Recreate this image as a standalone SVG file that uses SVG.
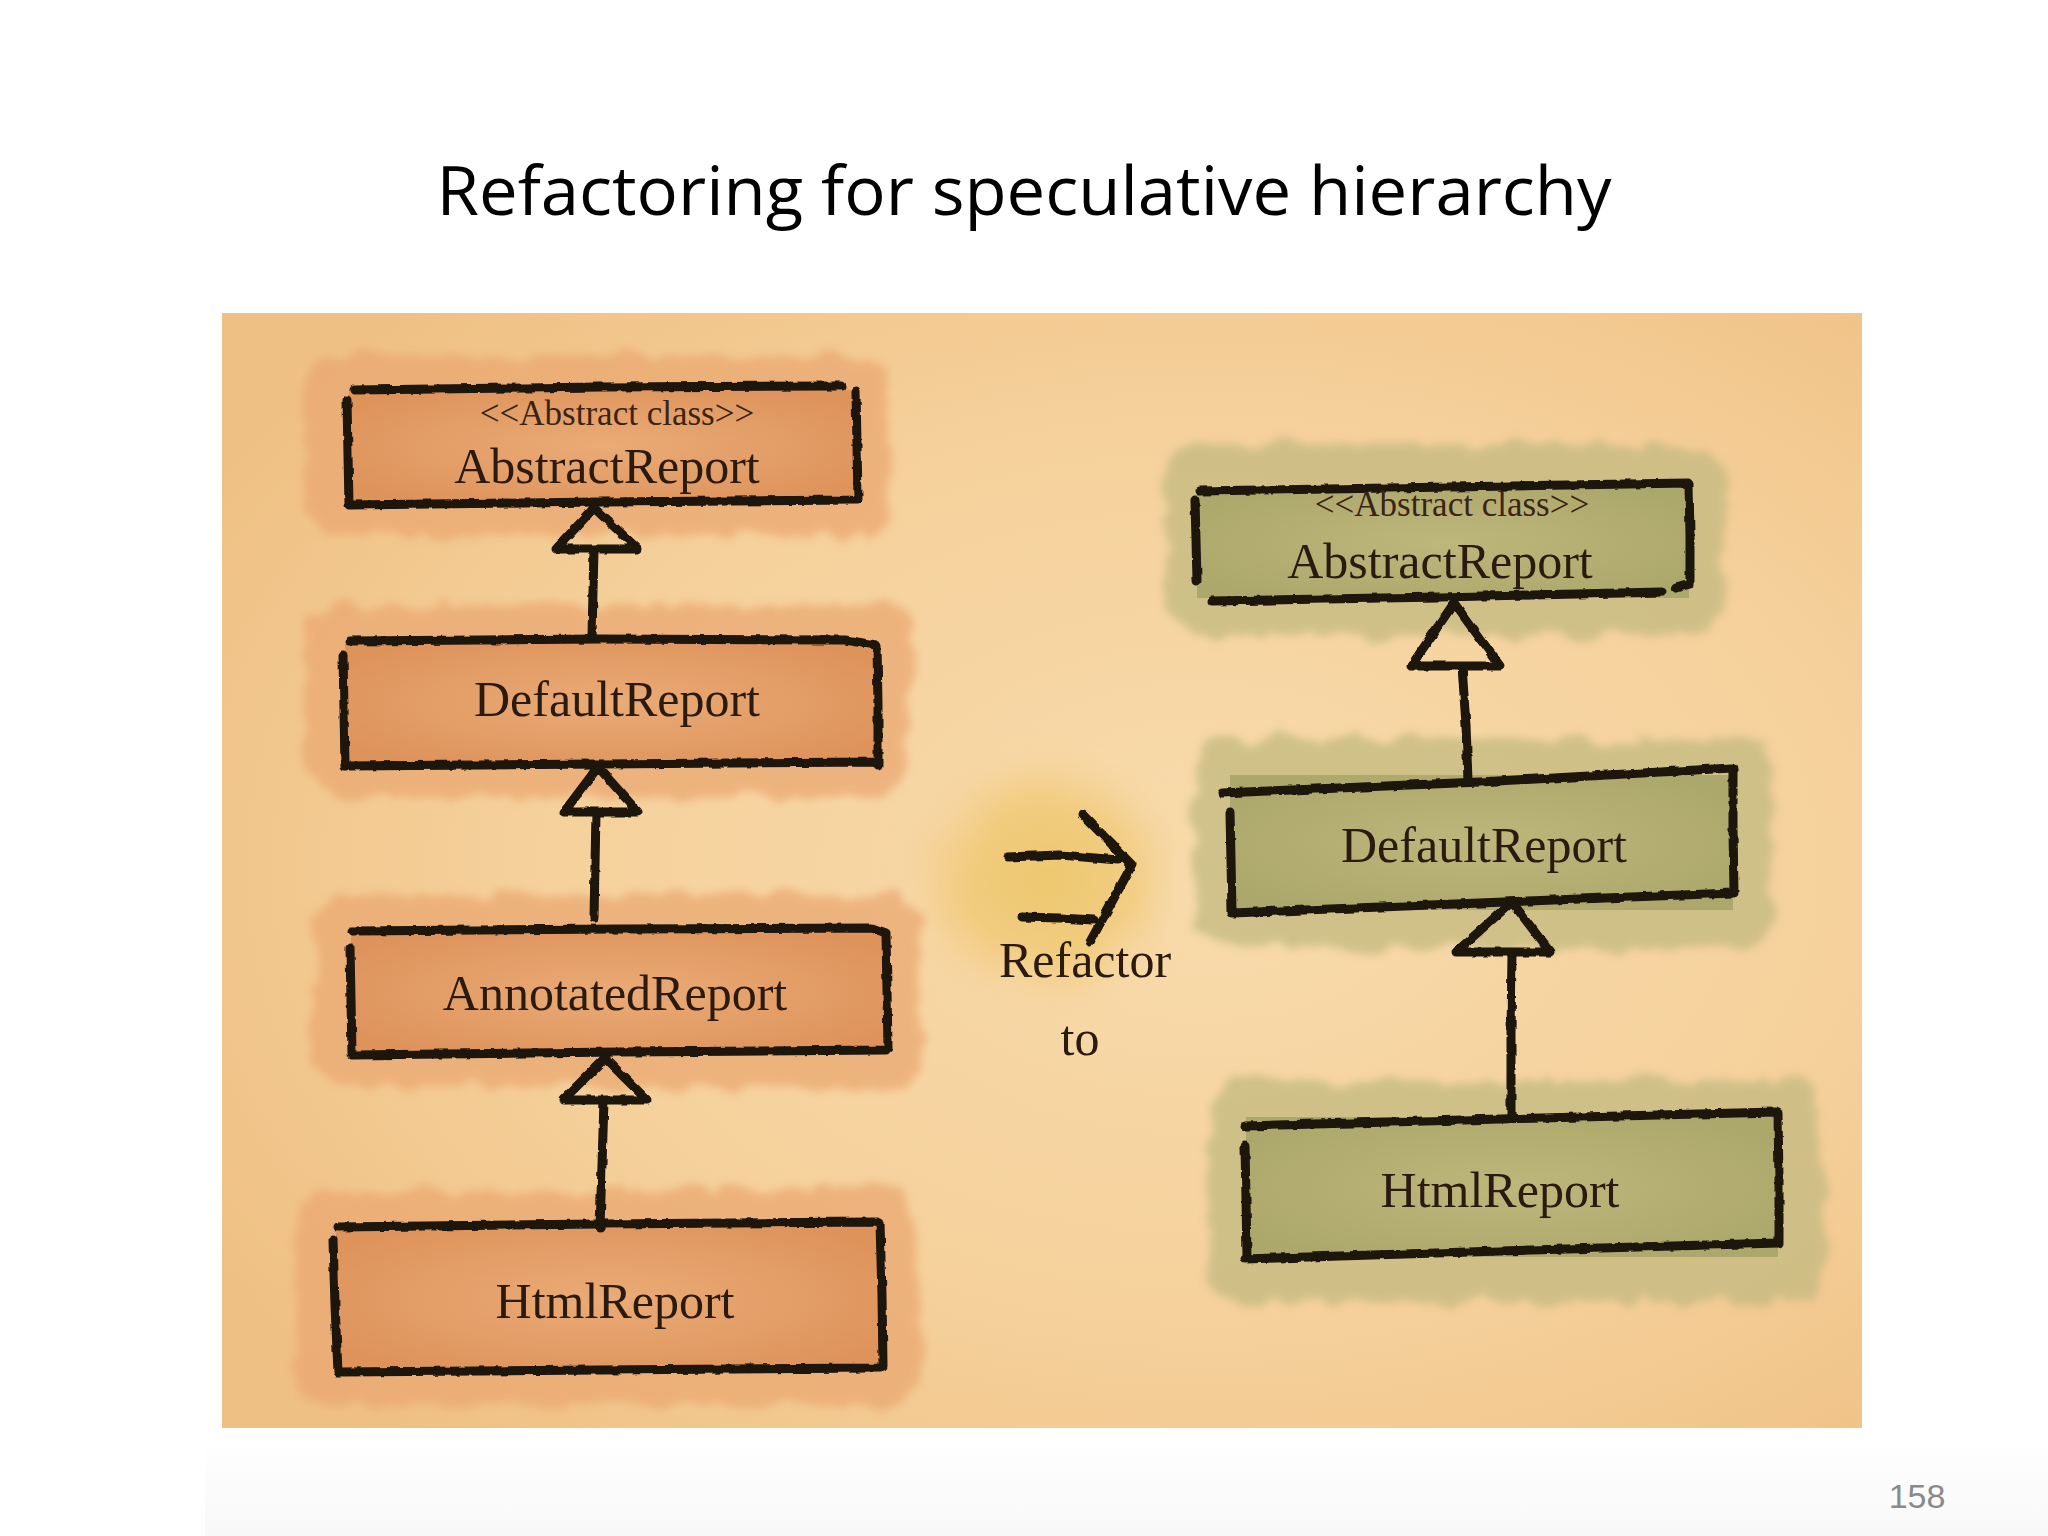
<svg xmlns="http://www.w3.org/2000/svg" width="2048" height="1536" viewBox="0 0 2048 1536">
<defs>
  <radialGradient id="panelGrad" cx="0.6" cy="0.5" r="0.7">
    <stop offset="0" stop-color="#F8DBAC"/>
    <stop offset="0.6" stop-color="#F5D09A"/>
    <stop offset="1" stop-color="#EFC084"/>
  </radialGradient>
  <radialGradient id="orangeFill" cx="0.5" cy="0.5" r="0.6">
    <stop offset="0" stop-color="#EAAB76"/>
    <stop offset="1" stop-color="#DE935B"/>
  </radialGradient>
  <radialGradient id="greenFill" cx="0.5" cy="0.5" r="0.6">
    <stop offset="0" stop-color="#BEB77C"/>
    <stop offset="1" stop-color="#ACA76B"/>
  </radialGradient>
  <radialGradient id="yellowBlob" cx="0.5" cy="0.5" r="0.5">
    <stop offset="0" stop-color="#EEC76E"/>
    <stop offset="0.6" stop-color="#F0CA78" stop-opacity="0.85"/>
    <stop offset="1" stop-color="#F3CF8E" stop-opacity="0"/>
  </radialGradient>
  <filter id="rough" x="-15%" y="-30%" width="130%" height="160%">
    <feTurbulence type="fractalNoise" baseFrequency="0.03" numOctaves="3" seed="4"/>
    <feDisplacementMap in="SourceGraphic" scale="26" xChannelSelector="R" yChannelSelector="G"/>
    <feGaussianBlur stdDeviation="4"/>
  </filter>
  <filter id="sketch" x="-5%" y="-5%" width="110%" height="110%">
    <feTurbulence type="fractalNoise" baseFrequency="0.09" numOctaves="2" seed="7"/>
    <feDisplacementMap in="SourceGraphic" scale="4" xChannelSelector="R" yChannelSelector="G"/>
  </filter>
  <filter id="soft" x="-40%" y="-40%" width="180%" height="180%">
    <feTurbulence type="fractalNoise" baseFrequency="0.02" numOctaves="2" seed="2"/>
    <feDisplacementMap in="SourceGraphic" scale="30" xChannelSelector="R" yChannelSelector="G"/>
    <feGaussianBlur stdDeviation="10"/>
  </filter>
  <linearGradient id="bottomFade" x1="0" y1="0" x2="0" y2="1">
    <stop offset="0" stop-color="#ffffff"/>
    <stop offset="1" stop-color="#f8f8f8"/>
  </linearGradient>
</defs>
<style>
  .title { font-family: "Open Sans", "Liberation Sans", sans-serif; font-size: 68px; fill: #000; }
  .pnum { font-family: "Liberation Sans", Arial, sans-serif; font-size: 34px; fill: #8a8a8a; }
  .name { font-family: "Liberation Serif", "DejaVu Serif", serif; font-size: 50px; fill: #2a1a10; text-anchor: middle; }
  .stereo { font-family: "Liberation Serif", "DejaVu Serif", serif; font-size: 35px; fill: #3a2414; text-anchor: middle; }
  .ink { fill: none; stroke: #1c120b; stroke-width: 9; stroke-linecap: round; stroke-linejoin: round; }
  .haloO { fill: #EAA670; opacity: 0.7; }
  .haloG { fill: #C3BA80; opacity: 0.75; }
</style>

<rect width="2048" height="1536" fill="#ffffff"/>
<rect x="205" y="1440" width="1843" height="96" fill="url(#bottomFade)"/>

<!-- background panel -->
<rect id="panel" x="222" y="313" width="1640" height="1115" fill="url(#panelGrad)"/>

<text class="title" x="1024" y="215" text-anchor="middle" textLength="1175" lengthAdjust="spacingAndGlyphs">Refactoring for speculative hierarchy</text>

<!-- yellow blob behind refactor arrow -->
<ellipse cx="1045" cy="880" rx="140" ry="130" fill="url(#yellowBlob)" filter="url(#soft)"/>

<!-- LEFT: original hierarchy -->
<g id="left-abstractreport">
  <rect class="haloO" x="305" y="355" width="585" height="180" rx="30" filter="url(#rough)"/>
  <rect x="349" y="390" width="508" height="112" fill="url(#orangeFill)"/>
  <path class="ink" filter="url(#sketch)" d="M355 390 L600 387 L842 386 M856 391 L857 445 L858 500 M350 505 L600 502 L857 500 M347 400 L348 455 L349 505"/>
  <text class="stereo" x="617" y="425">&lt;&lt;Abstract class&gt;&gt;</text>
  <text class="name" x="607" y="483">AbstractReport</text>
</g>

<g id="left-defaultreport">
  <rect class="haloO" x="305" y="605" width="605" height="192" rx="30" filter="url(#rough)"/>
  <rect x="345" y="642" width="532" height="122" fill="url(#orangeFill)"/>
  <path class="ink" filter="url(#sketch)" d="M350 641 L600 639 L845 640 L875 645 M877 646 L878 705 L878 765 M345 766 L600 764 L877 762 M343 655 L344 710 L345 766"/>
  <text class="name" x="617" y="716">DefaultReport</text>
</g>

<g id="left-annotatedreport">
  <rect class="haloO" x="312" y="895" width="610" height="192" rx="30" filter="url(#rough)"/>
  <rect x="351" y="932" width="536" height="121" fill="url(#orangeFill)"/>
  <path class="ink" filter="url(#sketch)" d="M352 931 L620 929 L872 928 L886 933 M886 934 L887 990 L888 1048 M352 1055 L620 1052 L886 1050 M350 948 L351 1000 L352 1055"/>
  <text class="name" x="615" y="1010">AnnotatedReport</text>
</g>

<g id="left-htmlreport">
  <rect class="haloO" x="295" y="1190" width="625" height="215" rx="30" filter="url(#rough)"/>
  <rect x="336" y="1225" width="545" height="146" fill="url(#orangeFill)"/>
  <path class="ink" filter="url(#sketch)" d="M338 1227 L600 1224 L878 1222 M880 1223 L882 1295 L883 1366 M338 1372 L600 1370 L880 1368 M333 1240 L335 1305 L338 1372"/>
  <text class="name" x="615" y="1318">HtmlReport</text>
</g>

<!-- RIGHT: refactored hierarchy -->
<g id="right-abstractreport">
  <rect class="haloG" x="1165" y="445" width="560" height="190" rx="35" filter="url(#rough)"/>
  <rect x="1197" y="488" width="492" height="110" fill="url(#greenFill)"/>
  <path class="ink" filter="url(#sketch)" d="M1200 491 L1450 487 L1688 483 M1689 484 L1690 535 L1690 584 L1676 588 M1212 601 L1440 597 L1662 592 M1195 500 L1196 540 L1197 580"/>
  <text class="stereo" x="1452" y="516">&lt;&lt;Abstract class&gt;&gt;</text>
  <text class="name" x="1440" y="578">AbstractReport</text>
</g>

<g id="right-defaultreport">
  <rect class="haloG" x="1195" y="738" width="578" height="210" rx="35" filter="url(#rough)"/>
  <rect x="1230" y="775" width="503" height="135" fill="url(#greenFill)"/>
  <path class="ink" filter="url(#sketch)" d="M1222 793 L1480 782 L1732 768 M1733 769 L1733 830 L1734 893 M1232 913 L1480 903 L1733 893 M1230 812 L1231 860 L1232 912"/>
  <text class="name" x="1484" y="862">DefaultReport</text>
</g>

<g id="right-htmlreport">
  <rect class="haloG" x="1208" y="1080" width="615" height="222" rx="35" filter="url(#rough)"/>
  <rect x="1246" y="1117" width="532" height="140" fill="url(#greenFill)"/>
  <path class="ink" filter="url(#sketch)" d="M1245 1126 L1500 1119 L1776 1112 M1778 1113 L1779 1180 L1779 1243 M1245 1259 L1500 1251 L1779 1243 M1245 1146 L1246 1200 L1247 1258"/>
  <text class="name" x="1500" y="1207">HtmlReport</text>
</g>

<!-- refactor arrow and label -->
<g id="refactor-to">
  <path class="ink" filter="url(#sketch)" d="M1008 857 L1060 855 L1118 860 M1083 815 L1132 865 L1090 942 M1022 917 L1060 918 L1093 920"/>
  <text class="name" x="1085" y="977" font-size="48">Refactor</text>
  <text class="name" x="1080" y="1055" font-size="48">to</text>
</g>

<!-- connectors (generalization arrows) -->
<g id="connectors" class="ink" filter="url(#sketch)">
  <path d="M594 508 L638 549 L556 549 Z M594 549 L593 592 L592 636"/>
  <path d="M598 767 L638 812 L564 812 Z M596 812 L595 865 L594 918"/>
  <path d="M605 1058 L647 1100 L563 1100 Z M604 1100 L602 1165 L600 1228"/>
  <path d="M1454 603 L1500 666 L1411 666 Z M1462 666 L1466 725 L1468 782"/>
  <path d="M1512 902 L1550 952 L1456 952 Z M1512 952 L1511 1035 L1511 1116"/>
</g>

<text class="pnum" x="1917" y="1508" text-anchor="middle">158</text>
</svg>
